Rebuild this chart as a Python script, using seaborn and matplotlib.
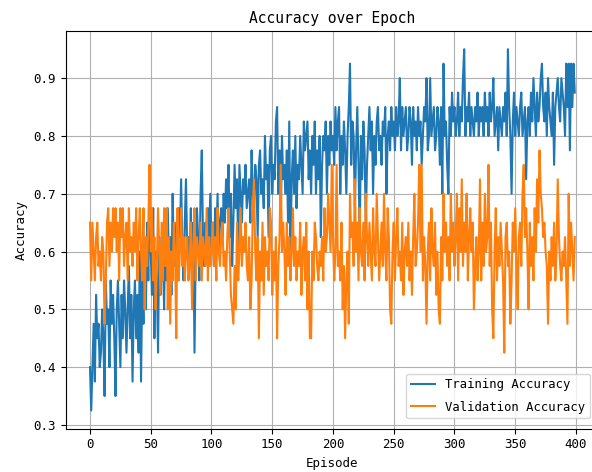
import numpy as np
import pandas as pd
import matplotlib
matplotlib.use("Agg")
import matplotlib.pyplot as plt
import seaborn as sns

# === Data (400 episodes) ===
train_acc = [
    0.4, 0.325, 0.4, 0.475, 0.375, 0.525, 0.45, 0.475, 0.4, 0.425, 0.5, 0.45, 0.35, 0.55, 0.475, 0.5, 0.4, 0.55, 0.475, 0.525,
    0.45, 0.35, 0.5, 0.55, 0.475, 0.4, 0.525, 0.45, 0.55, 0.5, 0.425, 0.5, 0.575, 0.45, 0.525, 0.375, 0.5, 0.55, 0.45, 0.525,
    0.425, 0.6, 0.375, 0.55, 0.475, 0.6, 0.5, 0.65, 0.55, 0.725, 0.6, 0.525, 0.675, 0.45, 0.6, 0.55, 0.425, 0.625, 0.525, 0.575,
    0.6, 0.5, 0.65, 0.55, 0.675, 0.575, 0.625, 0.525, 0.7, 0.6, 0.575, 0.65, 0.55, 0.675, 0.625, 0.725, 0.6, 0.55, 0.65, 0.725,
    0.6, 0.625, 0.575, 0.675, 0.525, 0.65, 0.425, 0.6, 0.675, 0.625, 0.55, 0.7, 0.775, 0.625, 0.575, 0.65, 0.6, 0.675, 0.625, 0.7,
    0.6, 0.65, 0.575, 0.675, 0.625, 0.7, 0.6, 0.65, 0.675, 0.625, 0.7, 0.65, 0.725, 0.675, 0.75, 0.625, 0.7, 0.575, 0.65, 0.75,
    0.675, 0.725, 0.6, 0.75, 0.7, 0.65, 0.725, 0.7, 0.75, 0.675, 0.7, 0.725, 0.65, 0.775, 0.7, 0.675, 0.75, 0.725, 0.625, 0.75,
    0.775, 0.7, 0.725, 0.675, 0.8, 0.725, 0.75, 0.625, 0.775, 0.8, 0.7, 0.75, 0.725, 0.825, 0.85, 0.7, 0.775, 0.65, 0.8, 0.725,
    0.75, 0.7, 0.775, 0.65, 0.825, 0.6, 0.725, 0.775, 0.7, 0.8, 0.675, 0.75, 0.725, 0.8, 0.75, 0.7, 0.825, 0.775, 0.8, 0.825,
    0.725, 0.775, 0.7, 0.8, 0.75, 0.825, 0.7, 0.775, 0.725, 0.8, 0.625, 0.75, 0.8, 0.775, 0.825, 0.7, 0.8, 0.75, 0.825, 0.775,
    0.8, 0.75, 0.85, 0.775, 0.825, 0.85, 0.7, 0.8, 0.75, 0.825, 0.775, 0.7, 0.8, 0.85, 0.925, 0.75, 0.825, 0.8, 0.675, 0.775,
    0.85, 0.75, 0.625, 0.8, 0.725, 0.825, 0.775, 0.65, 0.75, 0.8, 0.85, 0.775, 0.825, 0.7, 0.8, 0.75, 0.825, 0.85, 0.775, 0.8,
    0.75, 0.825, 0.8, 0.85, 0.7, 0.8, 0.825, 0.775, 0.85, 0.8, 0.825, 0.775, 0.85, 0.8, 0.825, 0.9, 0.775, 0.85, 0.8, 0.825,
    0.85, 0.775, 0.8, 0.85, 0.825, 0.75, 0.85, 0.8, 0.825, 0.775, 0.85, 0.8, 0.825, 0.75, 0.8, 0.85, 0.825, 0.9, 0.775, 0.8,
    0.9, 0.8, 0.825, 0.85, 0.775, 0.8, 0.85, 0.825, 0.75, 0.85, 0.7, 0.925, 0.8, 0.825, 0.75, 0.7, 0.85, 0.8, 0.875, 0.825,
    0.85, 0.8, 0.825, 0.875, 0.8, 0.85, 0.825, 0.9, 0.95, 0.8, 0.85, 0.825, 0.875, 0.8, 0.85, 0.825, 0.8, 0.85, 0.825, 0.875,
    0.8, 0.85, 0.825, 0.85, 0.8, 0.875, 0.825, 0.85, 0.8, 0.875, 0.825, 0.85, 0.9, 0.8, 0.825, 0.85, 0.775, 0.85, 0.825, 0.8,
    0.85, 0.825, 0.875, 0.8, 0.95, 0.85, 0.8, 0.7, 0.825, 0.875, 0.8, 0.85, 0.825, 0.8, 0.85, 0.875, 0.8, 0.825, 0.85, 0.725,
    0.825, 0.85, 0.8, 0.875, 0.825, 0.9, 0.85, 0.8, 0.875, 0.825, 0.85, 0.9, 0.925, 0.85, 0.825, 0.875, 0.8, 0.9, 0.85, 0.825,
    0.8, 0.875, 0.75, 0.85, 0.875, 0.9, 0.85, 0.825, 0.9, 0.875, 0.85, 0.8, 0.925, 0.85, 0.925, 0.775, 0.925, 0.85, 0.925, 0.875,
]

val_acc = [
    0.65, 0.55, 0.65, 0.6, 0.55, 0.625, 0.65, 0.575, 0.6, 0.55, 0.625, 0.6, 0.475, 0.55, 0.65, 0.675, 0.575, 0.65, 0.6, 0.675,
    0.625, 0.675, 0.6, 0.65, 0.55, 0.675, 0.625, 0.675, 0.575, 0.625, 0.65, 0.55, 0.675, 0.6, 0.625, 0.575, 0.65, 0.6, 0.675, 0.55,
    0.625, 0.675, 0.6, 0.55, 0.675, 0.5, 0.625, 0.575, 0.65, 0.75, 0.6, 0.675, 0.55, 0.625, 0.5, 0.575, 0.675, 0.6, 0.525, 0.65,
    0.55, 0.675, 0.575, 0.675, 0.5, 0.625, 0.475, 0.6, 0.55, 0.65, 0.6, 0.45, 0.675, 0.55, 0.6, 0.675, 0.575, 0.625, 0.55, 0.6,
    0.625, 0.55, 0.575, 0.65, 0.5, 0.6, 0.675, 0.55, 0.625, 0.6, 0.575, 0.65, 0.55, 0.625, 0.6, 0.575, 0.675, 0.55, 0.625, 0.575,
    0.6, 0.65, 0.575, 0.625, 0.55, 0.675, 0.6, 0.575, 0.625, 0.65, 0.575, 0.6, 0.55, 0.625, 0.675, 0.6, 0.525, 0.5, 0.475, 0.575,
    0.5, 0.65, 0.55, 0.6, 0.675, 0.575, 0.625, 0.6, 0.65, 0.575, 0.55, 0.625, 0.5, 0.55, 0.675, 0.725, 0.6, 0.55, 0.625, 0.45,
    0.6, 0.55, 0.65, 0.525, 0.625, 0.575, 0.6, 0.55, 0.675, 0.65, 0.525, 0.6, 0.55, 0.625, 0.45, 0.575, 0.625, 0.75, 0.6, 0.65,
    0.6, 0.525, 0.65, 0.575, 0.625, 0.55, 0.6, 0.675, 0.575, 0.625, 0.55, 0.6, 0.575, 0.65, 0.525, 0.6, 0.625, 0.55, 0.65, 0.5,
    0.6, 0.45, 0.45, 0.6, 0.55, 0.65, 0.625, 0.575, 0.55, 0.6, 0.575, 0.625, 0.55, 0.675, 0.6, 0.625, 0.7, 0.65, 0.6, 0.75,
    0.625, 0.55, 0.6, 0.75, 0.575, 0.6, 0.55, 0.65, 0.5, 0.575, 0.45, 0.55, 0.6, 0.475, 0.7, 0.625, 0.65, 0.575, 0.725, 0.6,
    0.65, 0.55, 0.675, 0.6, 0.575, 0.65, 0.55, 0.7, 0.625, 0.575, 0.65, 0.6, 0.55, 0.675, 0.6, 0.575, 0.7, 0.625, 0.55, 0.6,
    0.65, 0.575, 0.7, 0.6, 0.55, 0.675, 0.625, 0.5, 0.475, 0.6, 0.65, 0.55, 0.625, 0.675, 0.575, 0.6, 0.55, 0.65, 0.525, 0.6,
    0.625, 0.575, 0.65, 0.55, 0.6, 0.525, 0.625, 0.7, 0.575, 0.6, 0.65, 0.75, 0.6, 0.75, 0.55, 0.625, 0.575, 0.475, 0.6, 0.65,
    0.55, 0.675, 0.6, 0.575, 0.65, 0.525, 0.6, 0.5, 0.475, 0.625, 0.55, 0.7, 0.6, 0.65, 0.575, 0.625, 0.55, 0.7, 0.6, 0.65,
    0.575, 0.625, 0.7, 0.55, 0.675, 0.6, 0.725, 0.575, 0.65, 0.6, 0.7, 0.55, 0.625, 0.675, 0.6, 0.65, 0.5, 0.575, 0.625, 0.55,
    0.6, 0.725, 0.55, 0.65, 0.575, 0.7, 0.6, 0.625, 0.75, 0.575, 0.65, 0.5, 0.45, 0.6, 0.675, 0.55, 0.625, 0.575, 0.65, 0.6,
    0.55, 0.425, 0.625, 0.65, 0.575, 0.6, 0.475, 0.55, 0.65, 0.6, 0.675, 0.575, 0.5, 0.625, 0.65, 0.575, 0.7, 0.75, 0.625, 0.675,
    0.6, 0.5, 0.65, 0.575, 0.625, 0.55, 0.675, 0.6, 0.725, 0.65, 0.775, 0.7, 0.675, 0.625, 0.65, 0.6, 0.575, 0.475, 0.6, 0.55,
    0.625, 0.575, 0.65, 0.55, 0.6, 0.725, 0.625, 0.575, 0.55, 0.6, 0.575, 0.625, 0.55, 0.475, 0.7, 0.575, 0.65, 0.6, 0.55, 0.625,
]

episodes = np.arange(len(train_acc))

df = pd.DataFrame({
    'Episode': np.concatenate([episodes, episodes]),
    'Accuracy': train_acc + val_acc,
    'Series': ['Training Accuracy'] * len(train_acc) + ['Validation Accuracy'] * len(val_acc),
})

plt.rcParams['font.family'] = ['DejaVu Sans Mono', 'DejaVu Sans']

fig = plt.figure(figsize=(5.92, 4.72), dpi=100)
# right spine sits just past the right edge, like the cropped original
ax = fig.add_axes([0.1111, 0.092, 0.9007, 0.842])

sns.lineplot(
    data=df, x='Episode', y='Accuracy', hue='Series',
    palette=['#1f77b4', '#ff7f0e'], linewidth=1.5, ax=ax
)

ax.grid(True, color='#b0b0b0', linewidth=0.8)
ax.set_title('Accuracy over Epoch', fontsize=10.5)
ax.set_xlabel('Episode', fontsize=9)
ax.set_ylabel('Accuracy', fontsize=9)
ax.tick_params(labelsize=9)

handles, labels = ax.get_legend_handles_labels()
ax.legend(handles, labels, loc='lower right', fontsize=8.8, title=None,
          labelspacing=0.75, bbox_to_anchor=(0.995, 0.01))

fig.savefig('out.png', dpi=100)
